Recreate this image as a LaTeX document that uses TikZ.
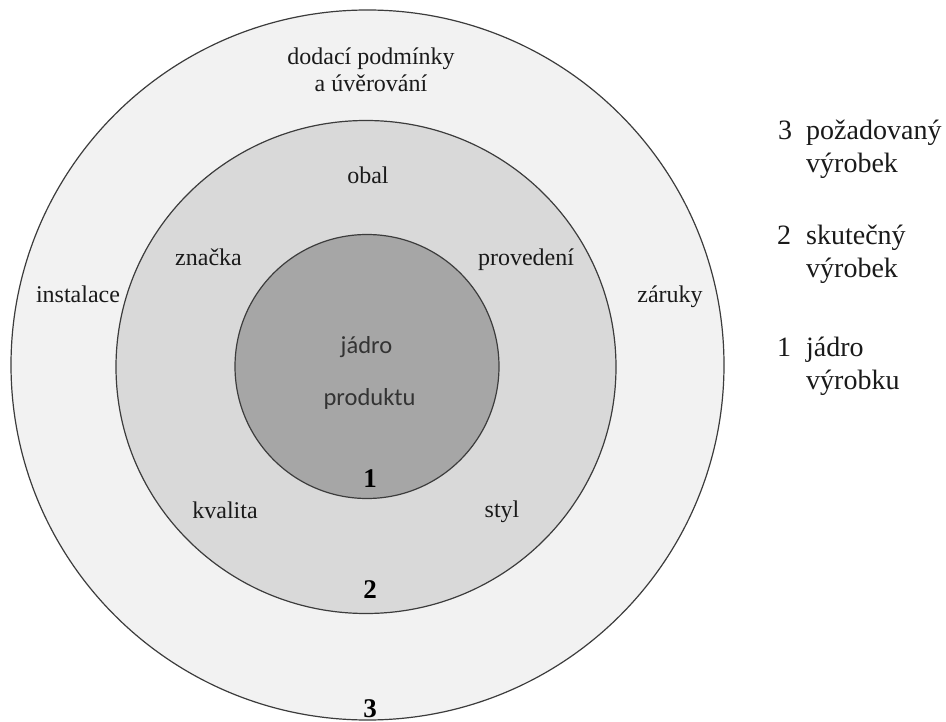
\documentclass[tikz,border=0pt]{standalone}
\usepackage{fontspec}
\setmainfont{Liberation Serif}
\newfontfamily\corefont{Carlito}
\definecolor{ringline}{HTML}{3C3C3C}
\definecolor{outerfill}{HTML}{F2F2F2}
\definecolor{midfill}{HTML}{D9D9D9}
\definecolor{innerfill}{HTML}{A6A6A6}
\definecolor{coretext}{HTML}{333333}
\definecolor{lbltext}{HTML}{1A1A1A}
\begin{document}
\begin{tikzpicture}[x=1pt,y=-1pt,
  ring/.style={draw=ringline,line width=1.2pt},
  lbl/.style={font=\fontsize{24}{28}\selectfont,text=lbltext,inner sep=0pt,anchor=base},
  num/.style={font=\fontsize{27}{30}\selectfont\bfseries,text=black,inner sep=0pt,anchor=base},
  core/.style={font=\corefont\fontsize{24.5}{28}\selectfont,text=coretext,inner sep=0pt,anchor=base},
  legnum/.style={font=\fontsize{28}{32}\selectfont,text=lbltext,inner sep=0pt,anchor=base west},
  legtxt/.style={font=\fontsize{28}{32}\selectfont,text=lbltext,inner sep=0pt,anchor=base west}]
\useasboundingbox[fill=white] (0,0) rectangle (946,722);

% rings
\fill[outerfill,ring] (367.5,365) ellipse [x radius=356.5, y radius=355];
\fill[midfill,ring] (366,367) ellipse [x radius=250, y radius=246.5];
\fill[innerfill,ring] (367,366.5) circle [radius=132];

% outer ring labels
\node[lbl] (dod1) at (371,65) {dodací podmínky};
\node[lbl] (dod2) at (371,92) {a úvěrování};
\node[lbl] (inst) at (78,303) {instalace};
\node[lbl] (zar) at (670,303) {záruky};
\node[num] (n3) at (370,717) {3};

% middle ring labels
\node[lbl] (obal) at (368,184) {obal};
\node[lbl] (znac) at (208.5,266) {značka};
\node[lbl] (prov) at (526,266) {provedení};
\node[lbl] (kval) at (225,518) {kvalita};
\node[lbl] (styl) at (502,517) {styl};
\node[num] (n2) at (370,598) {2};

% core
\node[core] (jad) at (366.5,353) {jádro};
\node[core] (prod) at (369.5,405) {produktu};
\node[num] (n1) at (370,487) {1};

% legend
\node[legnum] (l3) at (778,140) {3};
\node[legtxt] (l3a) at (806,140) {požadovaný};
\node[legtxt] (l3b) at (806,173) {výrobek};
\node[legnum] (l2) at (777,245) {2};
\node[legtxt] (l2a) at (806,245) {skutečný};
\node[legtxt] (l2b) at (806,278) {výrobek};
\node[legnum] (l1) at (777,356) {1};
\node[legtxt] (l1a) at (806,356) {jádro};
\node[legtxt] (l1b) at (806,389) {výrobku};
\end{tikzpicture}
\end{document}
